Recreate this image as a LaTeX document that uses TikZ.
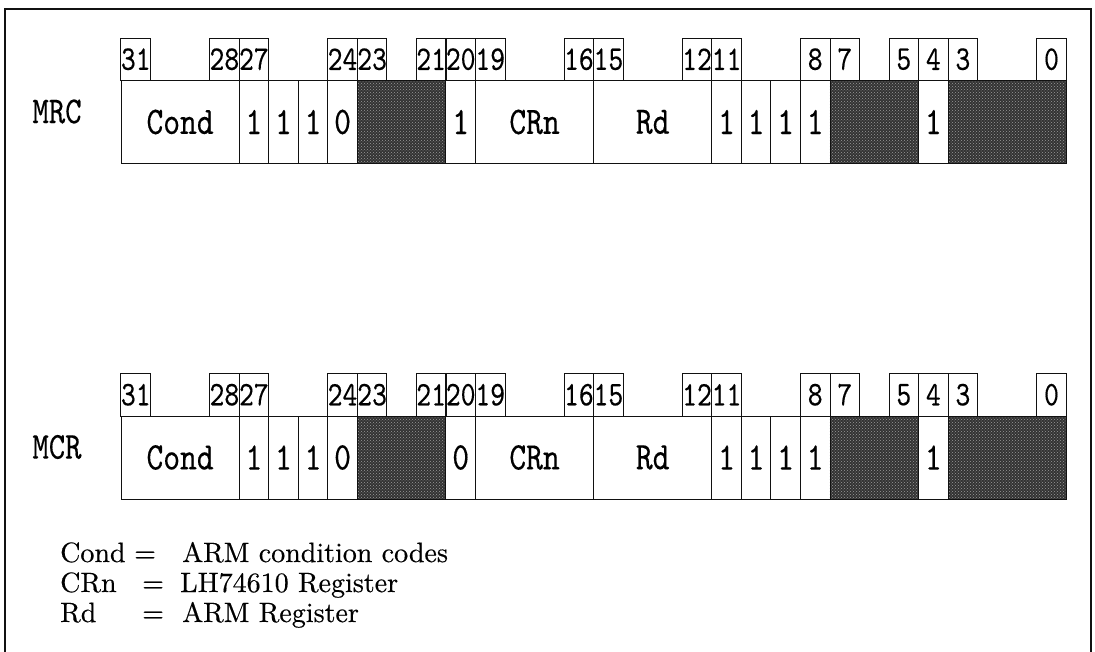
\documentclass[tikz,border=0pt]{standalone}
\usepackage{fontspec}
\usepackage{tikz}
\usetikzlibrary{positioning, patterns}
\newfontfamily\regfont{lmmono10-regular.otf}[FakeStretch=0.82, FakeBold=0.3]
\newfontfamily\keyfont{lmroman10-regular.otf}[FakeBold=0.4]
\definecolor{rgLine}{HTML}{111111}
\definecolor{rgShade}{HTML}{333333}
\definecolor{rgDots}{HTML}{9A9A9A}
\tikzset{
  rg-cell/.style={
    rectangle, draw=rgLine, line width=0.9pt, fill=white, inner sep=0pt,
    minimum height=83pt, font=\regfont\fontsize{39}{39}\selectfont
  },
  rg-res/.style={
    rg-cell, preaction={fill=rgShade}, pattern=crosshatch dots,
    pattern color=rgDots
  },
  rg-bitno/.style={
    rectangle, draw=rgLine, line width=0.9pt, inner sep=0pt,
    minimum width=29.54pt, minimum height=42.5pt,
    font=\regfont\fontsize{34.5}{34.5}\selectfont
  },
  rg-name/.style={font=\regfont\fontsize{38}{38}\selectfont},
  rg-key/.style={anchor=base west, inner sep=0pt, font=\keyfont\fontsize{28}{32}\selectfont},
  rg-frame/.style={draw=rgLine, line width=1.8pt},
}

\begin{document}
\begin{tikzpicture}[x=1pt, y=-1pt]
  \useasboundingbox (0,0) rectangle (1095,652);
  \draw[rg-frame] (5,652) -- (5,9) -- (1091,9) -- (1091,652);

  % the two instruction layouts
  \foreach \row/\top/\dir/\op in {mrc/80.5/1/MRC, mcr/416/0/MCR} {
    \node[rg-name] (\row-name) at (57, \top+31) {\op};
    \foreach \hi/\lo/\txt/\kind in {31/28/Cond/rg-cell, 27/27/1/rg-cell,
        26/26/1/rg-cell, 25/25/1/rg-cell, 24/24/0/rg-cell, 23/21//rg-res,
        20/20/\dir/rg-cell, 19/16/CRn/rg-cell, 15/12/Rd/rg-cell,
        11/11/1/rg-cell, 10/10/1/rg-cell, 9/9/1/rg-cell, 8/8/1/rg-cell,
        7/5//rg-res, 4/4/1/rg-cell, 3/0//rg-res}
      \node[\kind, minimum width=(\hi-\lo+1)*29.54pt] (\row-\hi)
        at ({121+(31-\hi)*29.54+(\hi-\lo+1)*14.77}, {\top+41.5}) {\txt};
    \foreach \b in {31,28,27,24,23,21,20,19,16,15,12,11,8,7,5,4,3,0}
      \node[rg-bitno] (\row-b\b) at ({121+(31-\b)*29.54+14.77}, {\top-21.25}) {\b};
  }

  % legend
  \node[rg-key] (key-cond) at (60,562) {Cond};
  \node[rg-key] (eq-cond)  at (134,562) {=};
  \node[rg-key] (val-cond) at (182,562) {ARM condition codes};
  \node[rg-key] (key-crn)  at (60,592) {CRn};
  \node[rg-key] (eq-crn)   at (142,592) {=};
  \node[rg-key] (val-crn)  at (180,592) {LH74610 Register};
  \node[rg-key] (key-rd)   at (60,622) {Rd};
  \node[rg-key] (eq-rd)    at (142,622) {=};
  \node[rg-key] (val-rd)   at (182,622) {ARM Register};
\end{tikzpicture}
\end{document}
